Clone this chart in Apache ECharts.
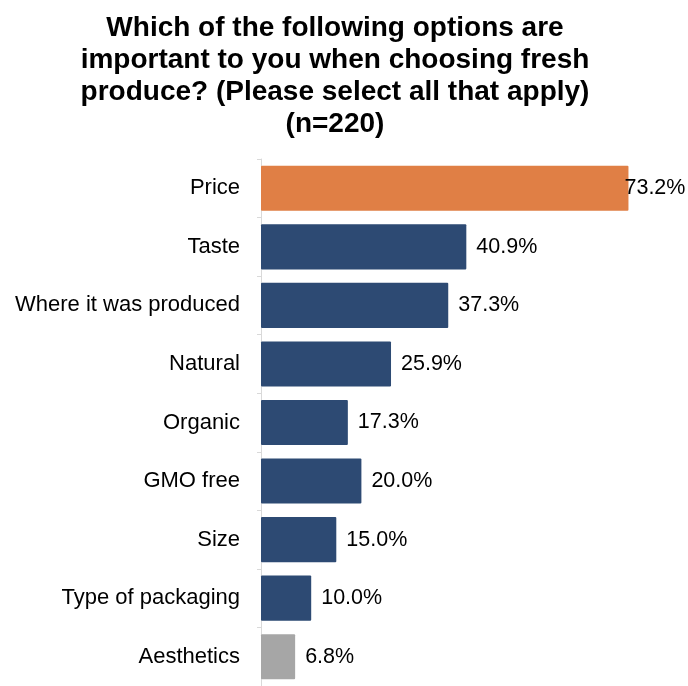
<!DOCTYPE html>
<html><head><meta charset="utf-8">
<script src="https://cdn.jsdelivr.net/npm/echarts@6/dist/echarts.min.js"></script>
<style>html,body{margin:0;padding:0;background:#fff}#c{width:688px;height:686px}</style>
</head><body><div id="c"></div>
<script>
const categories = ["Price","Taste","Where it was produced","Natural","Organic","GMO free","Size","Type of packaging","Aesthetics"];
const values = [73.2,40.9,37.3,25.9,17.3,20.0,15.0,10.0,6.8];
const barColors = ["#E07F45","#2D4A73","#2D4A73","#2D4A73","#2D4A73","#2D4A73","#2D4A73","#2D4A73","#A6A6A6"];
const titleText = "Which of the following options are\nimportant to you when choosing fresh\nproduce? (Please select all that apply)\n(n=220)";

const chart = echarts.init(document.getElementById('c'), null, {renderer:'canvas'});
chart.setOption({
  animation:false,
  backgroundColor:'#fff',
  title:{text:titleText,left:330,textAlign:'center',top:7,
    textStyle:{fontFamily:'Liberation Sans, Arial',fontWeight:'bold',fontSize:28,lineHeight:32,color:'#000'}},
  grid:{left:261,top:159,width:401.6,height:534,containLabel:false},
  xAxis:{type:'value',min:0,max:80,show:false},
  yAxis:{type:'category',data:categories,inverse:true,
    axisLine:{show:true,lineStyle:{color:'#D9D9D9',width:1}},
    axisTick:{show:true,length:4,lineStyle:{color:'#D9D9D9'}},
    axisLabel:{margin:21,fontFamily:'Liberation Sans, Arial',fontSize:22,color:'#000'}},
  series:[{type:'bar',barCategoryGap:'23%',
    data:values.map((v,i)=>({value:v,itemStyle:{color:barColors[i],borderRadius:1},
      label: i===0 ? {offset:[-14,0]} : {}})),
    label:{show:true,position:'right',distance:10,fontFamily:'Liberation Sans, Arial',fontSize:21.5,color:'#000',
      formatter:p=>p.value.toFixed(1)+'%'}}]
});
</script></body></html>
